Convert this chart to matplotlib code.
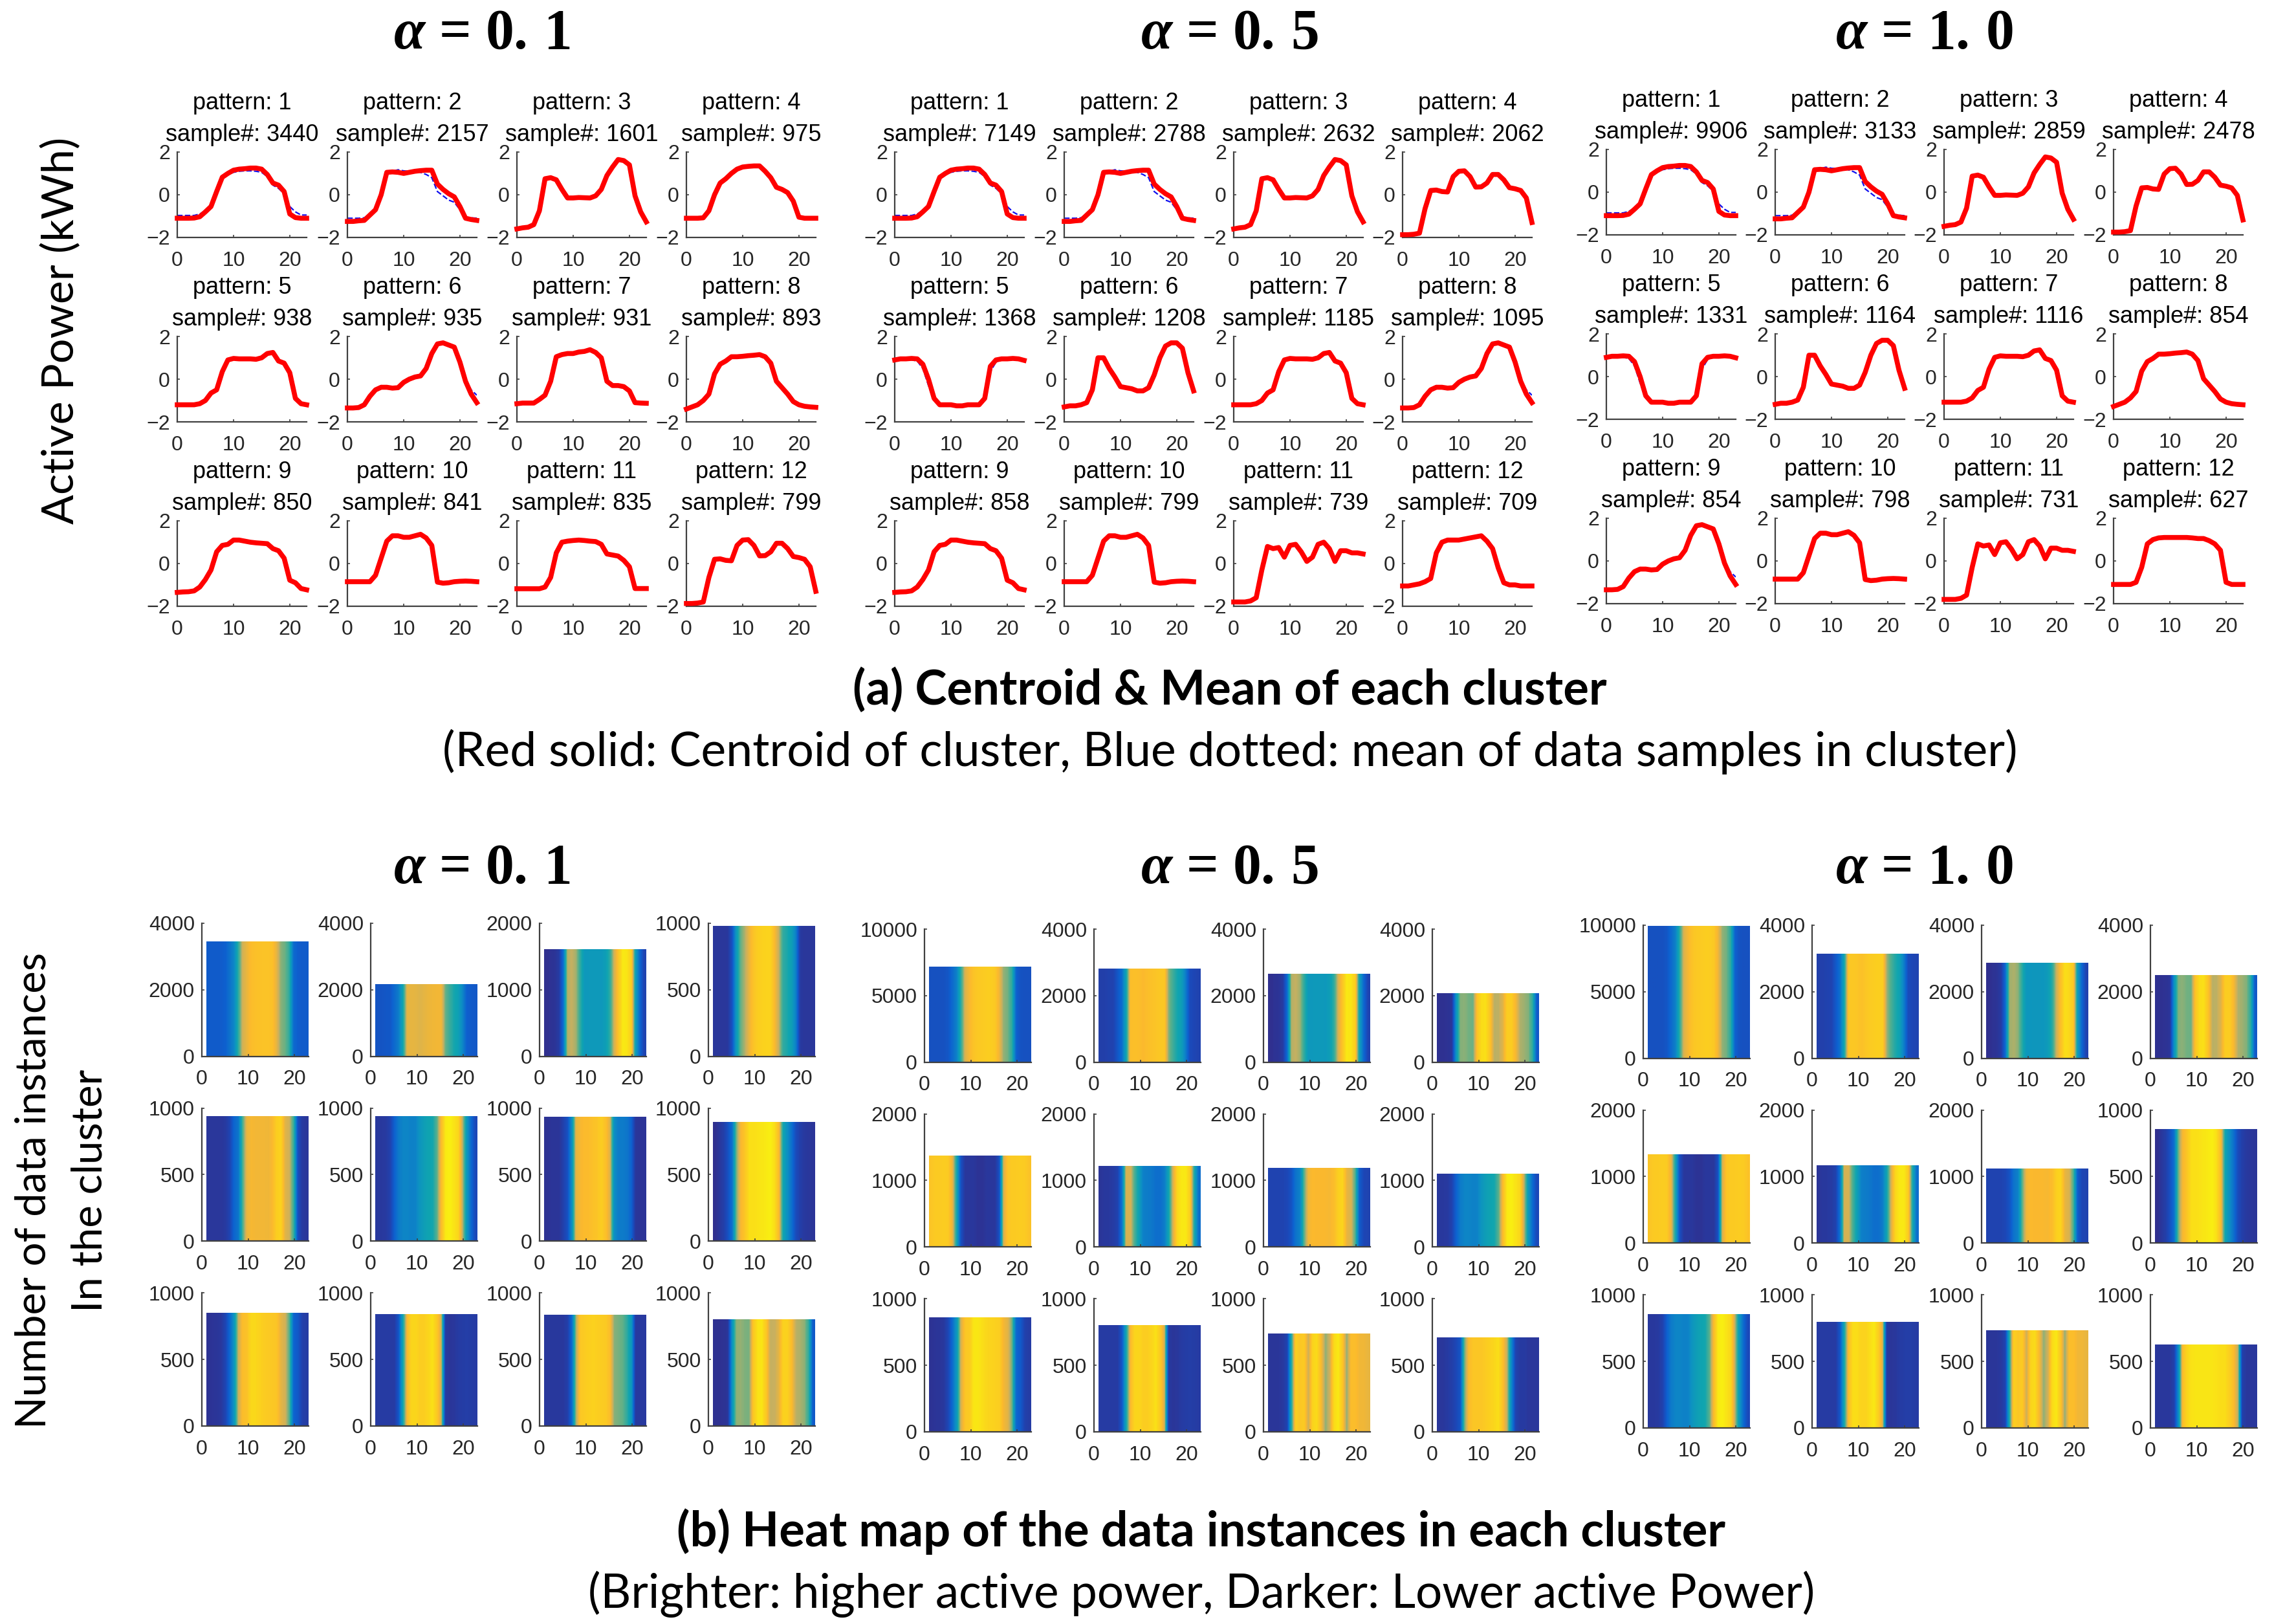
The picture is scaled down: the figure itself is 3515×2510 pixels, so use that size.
#!/usr/bin/env python3
"""Cluster centroids and heat maps for three alpha values."""

import numpy as np
import matplotlib
matplotlib.use("Agg")
import matplotlib.pyplot as plt
from matplotlib.colors import LinearSegmentedColormap

plt.rcParams.update({
    "font.family": "Liberation Sans",
    "mathtext.fontset": "custom",
    "mathtext.rm": "Liberation Serif:bold",
    "mathtext.it": "Liberation Serif:italic:bold",
    "mathtext.bf": "Liberation Serif:bold",
})

W, H = 3516, 2510

# Cluster profiles over 24 hours
bell = [-1.1, -1.1, -1.1, -1.09, -1.03, -0.8, -0.55, 0.15, 0.82, 1.0, 1.15, 1.2,
        1.22, 1.25, 1.25, 1.2, 0.95, 0.55, 0.45, 0.15, -0.9, -1.07, -1.1, -1.1]
bell_mean = [-0.97, -0.97, -0.97, -0.97, -0.9, -0.75, -0.45, 0.1, 0.7, 0.95, 1.05, 1.1,
             1.12, 1.12, 1.1, 1.05, 0.85, 0.45, 0.3, 0.05, -0.55, -0.8, -0.95, -0.95]
plateau2 = [-1.25, -1.25, -1.22, -1.2, -0.95, -0.7, 0.0, 1.05, 1.07, 1.05, 1.0, 1.05,
            1.1, 1.13, 1.15, 1.15, 0.5, 0.25, 0.05, -0.1, -0.55, -1.1, -1.16, -1.2]
plateau2_mean = [-1.1, -1.1, -1.1, -1.08, -0.9, -0.6, 0.0, 1.0, 1.1, 1.17, 1.12, 1.1,
                 1.1, 1.05, 0.95, 0.8, 0.15, -0.05, -0.25, -0.35, -0.7, -1.05, -1.08, -1.1]
double3 = [-1.6, -1.55, -1.52, -1.4, -0.75, 0.75, 0.8, 0.7, 0.25, -0.15, -0.15, -0.13,
           -0.14, -0.15, -0.05, 0.25, 0.9, 1.3, 1.65, 1.6, 1.4, -0.05, -0.8, -1.27]
dome4 = [-1.1, -1.1, -1.1, -1.08, -0.75, 0.0, 0.55, 0.75, 1.0, 1.2, 1.3, 1.33,
         1.35, 1.35, 1.1, 0.8, 0.35, 0.25, 0.1, -0.3, -1.05, -1.1, -1.1, -1.1]
plateau5 = [-1.2, -1.2, -1.2, -1.2, -1.15, -1.0, -0.65, -0.5, 0.35, 0.9, 0.97, 0.95,
            0.95, 0.95, 0.93, 1.0, 1.2, 1.25, 0.85, 0.75, 0.3, -0.9, -1.15, -1.2]
evening = [-1.35, -1.35, -1.33, -1.2, -0.8, -0.5, -0.38, -0.38, -0.42, -0.4, -0.15, 0.0,
           0.1, 0.15, 0.5, 1.2, 1.65, 1.7, 1.6, 1.5, 0.8, -0.1, -0.7, -1.1]
evening_mean = [-1.35, -1.35, -1.33, -1.2, -0.8, -0.5, -0.3, -0.35, -0.42, -0.4, -0.15, 0.0,
                0.1, 0.15, 0.5, 1.2, 1.65, 1.7, 1.6, 1.5, 0.85, 0.0, -0.5, -0.75]
plateau7 = [-1.15, -1.12, -1.12, -1.12, -0.95, -0.75, -0.1, 1.05, 1.15, 1.2, 1.2, 1.27,
            1.3, 1.38, 1.25, 1.0, -0.1, -0.3, -0.3, -0.35, -0.55, -1.1, -1.12, -1.13]
dome8 = [-1.4, -1.3, -1.2, -1.0, -0.7, 0.25, 0.7, 0.85, 1.05, 1.05, 1.07, 1.1,
         1.12, 1.15, 1.05, 0.75, -0.1, -0.4, -0.7, -1.05, -1.2, -1.27, -1.3, -1.32]
dome9 = [-1.35, -1.33, -1.32, -1.28, -1.1, -0.75, -0.3, 0.55, 0.85, 0.9, 1.1, 1.1,
         1.05, 1.0, 0.97, 0.95, 0.93, 0.7, 0.6, 0.25, -0.78, -0.9, -1.17, -1.23]
peak10 = [-0.85, -0.85, -0.85, -0.85, -0.85, -0.55, 0.25, 1.05, 1.3, 1.3, 1.23, 1.23,
          1.3, 1.37, 1.2, 0.85, -0.87, -0.92, -0.9, -0.85, -0.83, -0.82, -0.83, -0.85]
dome11 = [-1.18, -1.18, -1.18, -1.18, -1.18, -1.1, -0.65, 0.5, 1.0, 1.05, 1.08, 1.1,
          1.08, 1.05, 1.03, 0.9, 0.45, 0.4, 0.35, 0.15, -0.15, -1.17, -1.17, -1.17]
multi12 = [-1.87, -1.87, -1.85, -1.8, -0.65, 0.2, 0.22, 0.15, 0.13, 0.85, 1.1, 1.12,
           0.85, 0.36, 0.37, 0.55, 0.95, 0.95, 0.7, 0.33, 0.28, 0.2, -0.15, -1.3]
inverse = [0.9, 0.95, 0.95, 0.97, 0.95, 0.7, 0.0, -0.9, -1.2, -1.2, -1.2, -1.25,
           -1.25, -1.2, -1.2, -1.2, -0.9, 0.6, 0.9, 0.95, 0.95, 0.97, 0.95, 0.88]
inverse_mean = [0.9, 0.9, 0.9, 0.9, 0.85, 0.5, -0.3, -1.0, -1.15, -1.15, -1.15, -1.2,
                -1.2, -1.15, -1.15, -1.15, -1.0, 0.35, 0.8, 0.92, 0.92, 0.92, 0.9, 0.88]
double6 = [-1.3, -1.25, -1.25, -1.2, -1.1, -0.5, 1.0, 1.0, 0.5, 0.1, -0.35, -0.4,
           -0.45, -0.55, -0.55, -0.4, 0.2, 1.0, 1.55, 1.7, 1.7, 1.45, 0.3, -0.55]
multi_b = [-1.8, -1.8, -1.8, -1.75, -1.6, -0.3, 0.8, 0.7, 0.75, 0.3, 0.85, 0.9,
           0.55, 0.1, 0.3, 0.9, 1.0, 0.7, 0.1, 0.6, 0.6, 0.5, 0.5, 0.45]
plateau12 = [-1.05, -1.05, -1.0, -0.95, -0.85, -0.7, 0.5, 1.0, 1.1, 1.1, 1.1, 1.15,
             1.2, 1.25, 1.3, 1.05, 0.7, -0.2, -0.9, -1.0, -1.0, -1.05, -1.05, -1.05]
dome12 = [-1.1, -1.1, -1.1, -1.1, -1.0, -0.3, 0.8, 1.0, 1.08, 1.1, 1.1, 1.1,
          1.1, 1.1, 1.08, 1.05, 1.05, 0.95, 0.8, 0.5, -1.0, -1.1, -1.1, -1.1]

# which profile each of the 12 patterns uses
patterns_01 = [bell, plateau2, double3, dome4, plateau5, evening,
               plateau7, dome8, dome9, peak10, dome11, multi12]
patterns_05 = [bell, plateau2, double3, multi12, inverse, double6,
               plateau5, evening, dome9, peak10, multi_b, plateau12]
patterns_10 = [bell, plateau2, double3, multi12, inverse, double6,
               plateau5, dome8, evening, peak10, multi_b, dome12]

means_01 = [bell_mean, plateau2_mean, double3, dome4, plateau5, evening_mean,
            plateau7, dome8, dome9, peak10, dome11, multi12]
means_05 = [bell_mean, plateau2_mean, double3, multi12, inverse_mean, double6,
            plateau5, evening_mean, dome9, peak10, multi_b, plateau12]
means_10 = [bell_mean, plateau2_mean, double3, multi12, inverse_mean, double6,
            plateau5, dome8, evening_mean, peak10, multi_b, dome12]

counts_01 = [3440, 2157, 1601, 975, 938, 935, 931, 893, 850, 841, 835, 799]
counts_05 = [7149, 2788, 2632, 2062, 1368, 1208, 1185, 1095, 858, 799, 739, 709]
counts_10 = [9906, 3133, 2859, 2478, 1331, 1164, 1116, 854, 854, 798, 731, 627]

ymax_01 = [4000, 4000, 2000, 1000, 1000, 1000, 1000, 1000, 1000, 1000, 1000, 1000]
ymax_05 = [10000, 4000, 4000, 4000, 2000, 2000, 2000, 2000, 1000, 1000, 1000, 1000]
ymax_10 = [10000, 4000, 4000, 4000, 2000, 2000, 2000, 1000, 1000, 1000, 1000, 1000]

alpha_labels = ["0.1", "0.5", "1.0"]

# colour limits of each heat map
limits_01 = [(-1.8, 1.75), (-1.9, 1.9), (-1.6, 1.75), (-1.2, 1.6), (-1.3, 1.5), (-1.5, 1.75),
             (-1.2, 1.7), (-1.4, 1.2), (-1.4, 1.3), (-1.0, 1.5), (-1.3, 1.35), (-1.9, 1.25)]
limits_05 = [(-1.6, 1.6), (-1.5, 1.55), (-1.6, 1.75), (-1.9, 1.3), (-1.3, 1.25), (-1.4, 1.8),
             (-1.5, 1.5), (-1.5, 1.75), (-1.4, 1.2), (-1.0, 1.5), (-1.9, 1.1), (-1.15, 1.45)]
limits_10 = [(-1.6, 1.6), (-1.5, 1.45), (-1.6, 1.85), (-1.9, 1.3), (-1.3, 1.25), (-1.4, 1.8),
             (-1.5, 1.5), (-1.4, 1.2), (-1.5, 1.75), (-1.0, 1.45), (-1.9, 1.1), (-1.2, 1.2)]

parula = LinearSegmentedColormap.from_list("parula", [
    (0.00, "#30308f"), (0.12, "#1c48b8"), (0.22, "#0d62d0"), (0.38, "#0d8fc4"),
    (0.50, "#10a5b0"), (0.62, "#5cb08a"), (0.72, "#c8b060"), (0.82, "#fbb92e"),
    (0.92, "#fbd51c"), (1.00, "#f9f50f"),
])

INK = "#262626"


def px_axes(fig, left, top, width, height):
    return fig.add_axes([left / W, 1 - (top + height) / H, width / W, height / H])


def style_axes(ax):
    ax.spines["top"].set_visible(False)
    ax.spines["right"].set_visible(False)
    for side in ("left", "bottom"):
        ax.spines[side].set_color("#404040")
        ax.spines[side].set_linewidth(1.6)
    ax.tick_params(direction="in", length=3, width=1.2, color="#404040",
                   labelsize=23, labelcolor=INK)
    ax.tick_params(axis="x", pad=15)
    ax.tick_params(axis="y", pad=8)


def fig_text(fig, x, y, s, **kw):
    kw.setdefault("ha", "center")
    kw.setdefault("va", "center")
    fig.text(x / W, 1 - y / H, s, **kw)


fig = plt.figure(figsize=(W / 100, H / 100), dpi=100)

# (a) centroid panels
line_groups = [
    (patterns_01, means_01, counts_01, [274, 537, 799, 1061], 235),
    (patterns_05, means_05, counts_05, [1383, 1645, 1907, 2168], 235),
    (patterns_10, means_10, counts_10, [2483, 2744, 3005, 3267], 231),
]
hours = np.arange(24)
for patterns, means, counts, lefts, top in line_groups:
    for i in range(12):
        row, col = divmod(i, 4)
        ax = px_axes(fig, lefts[col], top + row * 285, 200, 132)
        ax.plot(hours, means[i], color="#1010ee", ls="--", lw=1.6, zorder=2)
        ax.plot(hours, patterns[i], color="#ff0000", lw=5.5, zorder=3,
                solid_joinstyle="round", clip_on=False)
        ax.set_xlim(0, 23)
        ax.set_ylim(-2, 2)
        ax.set_xticks([0, 10, 20])
        ax.set_yticks([-2, 0, 2])
        style_axes(ax)
        ax.set_title(f"pattern: {i + 1}\nsample#: {counts[i]}", fontsize=26,
                     color="black", linespacing=1.53, pad=12)

# (b) heat map panels
heat_groups = [
    (patterns_01, counts_01, ymax_01, limits_01, [312, 573, 834, 1095], 1427),
    (patterns_05, counts_05, ymax_05, limits_05, [1429, 1691, 1953, 2214], 1436),
    (patterns_10, counts_10, ymax_10, limits_10, [2540, 2801, 3063, 3324], 1430),
]
for patterns, counts, ymax, limits, lefts, top in heat_groups:
    for i in range(12):
        row, col = divmod(i, 4)
        ax = px_axes(fig, lefts[col], top + row * 285.7, 165, 205.5)
        ax.imshow(np.atleast_2d(patterns[i]), cmap=parula, aspect="auto", origin="lower",
                  extent=[1, 23, 0, counts[i]], interpolation="bilinear",
                  vmin=limits[i][0], vmax=limits[i][1])
        ax.set_xlim(0, 23)
        ax.set_ylim(0, ymax[i])
        ax.set_xticks([0, 10, 20])
        ax.set_yticks([0, ymax[i] / 2, ymax[i]])
        ax.set_yticklabels([0, int(ymax[i] / 2), ymax[i]])
        style_axes(ax)

# alpha headings
for x, label in zip([745, 1901, 2975], alpha_labels):
    a, b = label.split(".")
    text = rf"$\alpha$ = $\mathbf{{{a}.\,{b}}}$"
    fig_text(fig, x, 53, text, fontsize=63, family="Liberation Serif", weight="bold")
    fig_text(fig, x, 1343, text, fontsize=63, family="Liberation Serif", weight="bold")

fig_text(fig, 1901, 1067, "(a) Centroid & Mean of each cluster",
         fontsize=53.4, family="Lato", weight="bold")
fig_text(fig, 1901, 1162, "(Red solid: Centroid of cluster, Blue dotted: mean of data samples in cluster)",
         fontsize=52.8, family="Lato")
fig_text(fig, 1857, 2367, "(b) Heat map of the data instances in each cluster",
         fontsize=53.5, family="Lato", weight="bold")
fig_text(fig, 1857, 2464, "(Brighter: higher active power, Darker: Lower active Power)",
         fontsize=52.4, family="Lato")

fig_text(fig, 95, 511, "Active Power (kWh)", fontsize=49, family="Lato", rotation=90)
fig_text(fig, 52, 1840, "Number of data instances", fontsize=47, family="Lato", rotation=90)
fig_text(fig, 139, 1840, "In the cluster", fontsize=47, family="Lato", rotation=90)

fig.savefig("out.png", dpi=100)
